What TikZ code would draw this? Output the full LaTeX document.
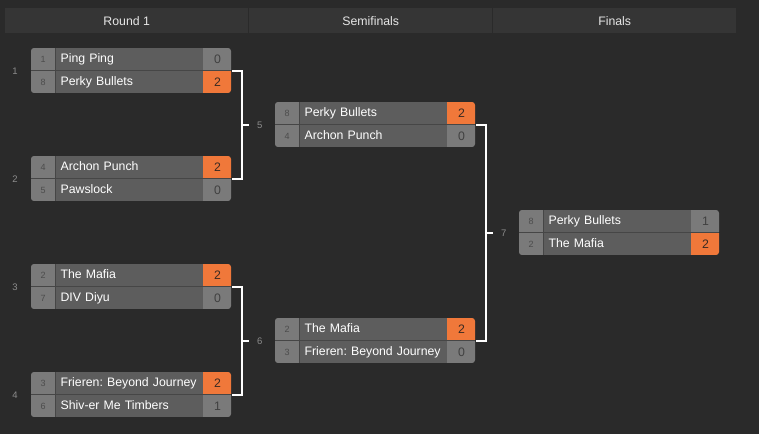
\documentclass[tikz,border=0pt]{standalone}
\usepackage{fontspec}
\setmainfont{Liberation Sans}
\frenchspacing
\usetikzlibrary{calc,positioning}
\definecolor{bgdark}{HTML}{2A2A2A}
\definecolor{headgray}{HTML}{353535}
\definecolor{headtext}{HTML}{E6E6E6}
\definecolor{cellgray}{HTML}{7A7A7A}
\definecolor{namegray}{HTML}{5D5D5D}
\definecolor{gapgray}{HTML}{464646}
\definecolor{winorange}{HTML}{F0783A}
\definecolor{seedtext}{HTML}{4C4C4C}
\definecolor{scoretext}{HTML}{404040}
\definecolor{wintext}{HTML}{3A2A22}
\definecolor{labelgray}{HTML}{8C8C8C}
\tikzset{%
	seedcell/.style  = {rectangle, fill=cellgray, minimum width=24pt, minimum height=22pt, inner sep=0pt, text height=7pt, text depth=1pt, text=seedtext, font=\fontsize{9}{10}\selectfont},
	namecell/.style  = {rectangle, fill=namegray, minimum height=22pt, text width=137pt, inner xsep=5pt, inner ysep=0pt, text height=9pt, text depth=2.5pt, align=left, text=white, font=\fontsize{12.3}{14}\selectfont},
	scorecell/.style = {rectangle, fill=cellgray, minimum width=29pt, minimum height=22pt, inner sep=0pt, text height=9pt, text depth=1pt, text=scoretext, font=\fontsize{12.3}{14}\selectfont},
	wincell/.style   = {scorecell, fill=winorange, text=wintext},
	bracket/.style   = {draw=white, line width=1.8pt}, % connector
	matchno/.style   = {inner sep=0pt, text=labelgray, font=\fontsize{9.5}{11}\selectfont},
	headcell/.style  = {rectangle, fill=headgray, minimum width=243pt, minimum height=25pt, inner sep=0pt, text=headtext, font=\fontsize{12.3}{14}\selectfont},
}
% one team line: id, x, y, seed, team, score, score style
\newcommand{\teamrow}[7]{%
	\node[seedcell, anchor=north west] (#1s) at (#2,#3) {#4};
	\node[namecell, right=0pt of #1s] (#1n) {#5};
	\node[#7, right=0pt of #1n] (#1p) {#6};
}
% one match box: x, y, rows
\newcommand{\game}[3]{%
	\begin{scope}
		\clip[rounded corners=3pt] (#1,#2) rectangle ++(200,45);
		\fill[gapgray] (#1,#2) rectangle ++(200,45);
		#3
	\end{scope}
}

\begin{document}
\begin{tikzpicture}[x=1pt, y=-1pt]
	\fill[bgdark] (0,0) rectangle (759,434);
	\useasboundingbox (0,0) rectangle (759,434);
	
	% headers
	\node[headcell, anchor=north west] (hround) at (5,8) {Round 1};
	\node[headcell, anchor=north west] (hsemi) at (249,8) {Semifinals};
	\node[headcell, anchor=north west] (hfinal) at (493,8) {Finals};
	
	% round 1
	\game{31}{48}{%
		\teamrow{g1a}{31}{48}{1}{Ping Ping}{0}{scorecell}
		\teamrow{g1b}{31}{71}{8}{Perky Bullets}{2}{wincell}}
	\game{31}{156}{%
		\teamrow{g2a}{31}{156}{4}{Archon Punch}{2}{wincell}
		\teamrow{g2b}{31}{179}{5}{Pawslock}{0}{scorecell}}
	\game{31}{264}{%
		\teamrow{g3a}{31}{264}{2}{The Mafia}{2}{wincell}
		\teamrow{g3b}{31}{287}{7}{DIV Diyu}{0}{scorecell}}
	\game{31}{372}{%
		\teamrow{g4a}{31}{372}{3}{Frieren: Beyond Journey}{2}{wincell}
		\teamrow{g4b}{31}{395}{6}{Shiv-er Me Timbers}{1}{scorecell}}
	
	% semifinals
	\game{275}{102}{%
		\teamrow{g5a}{275}{102}{8}{Perky Bullets}{2}{wincell}
		\teamrow{g5b}{275}{125}{4}{Archon Punch}{0}{scorecell}}
	\game{275}{318}{%
		\teamrow{g6a}{275}{318}{2}{The Mafia}{2}{wincell}
		\teamrow{g6b}{275}{341}{3}{Frieren: Beyond Journey}{0}{scorecell}}
	
	% finals
	\game{519}{210}{%
		\teamrow{g7a}{519}{210}{8}{Perky Bullets}{1}{scorecell}
		\teamrow{g7b}{519}{233}{2}{The Mafia}{2}{wincell}}
	
	% match numbers
	\node[matchno] (n1) at (15,71) {1};
	\node[matchno] (n2) at (15,179) {2};
	\node[matchno] (n3) at (15,287) {3};
	\node[matchno] (n4) at (15,395) {4};
	
	% brackets
	\draw[bracket] (g1bp.north east) -- ++(10,0) coordinate (k5) |- (g2bp.north east);
	\draw[bracket] ($(k5)!0.5!(k5 |- g2bp.north)$) -- ++(7,0) node[matchno, right=7pt] (n5) {5};
	\draw[bracket] (g3bp.north east) -- ++(10,0) coordinate (k6) |- (g4bp.north east);
	\draw[bracket] ($(k6)!0.5!(k6 |- g4bp.north)$) -- ++(7,0) node[matchno, right=7pt] (n6) {6};
	\draw[bracket] (g5bp.north east) -- ++(10,0) coordinate (k7) |- (g6bp.north east);
	\draw[bracket] ($(k7)!0.5!(k7 |- g6bp.north)$) -- ++(7,0) node[matchno, right=7pt] (n7) {7};
\end{tikzpicture}
\end{document}
